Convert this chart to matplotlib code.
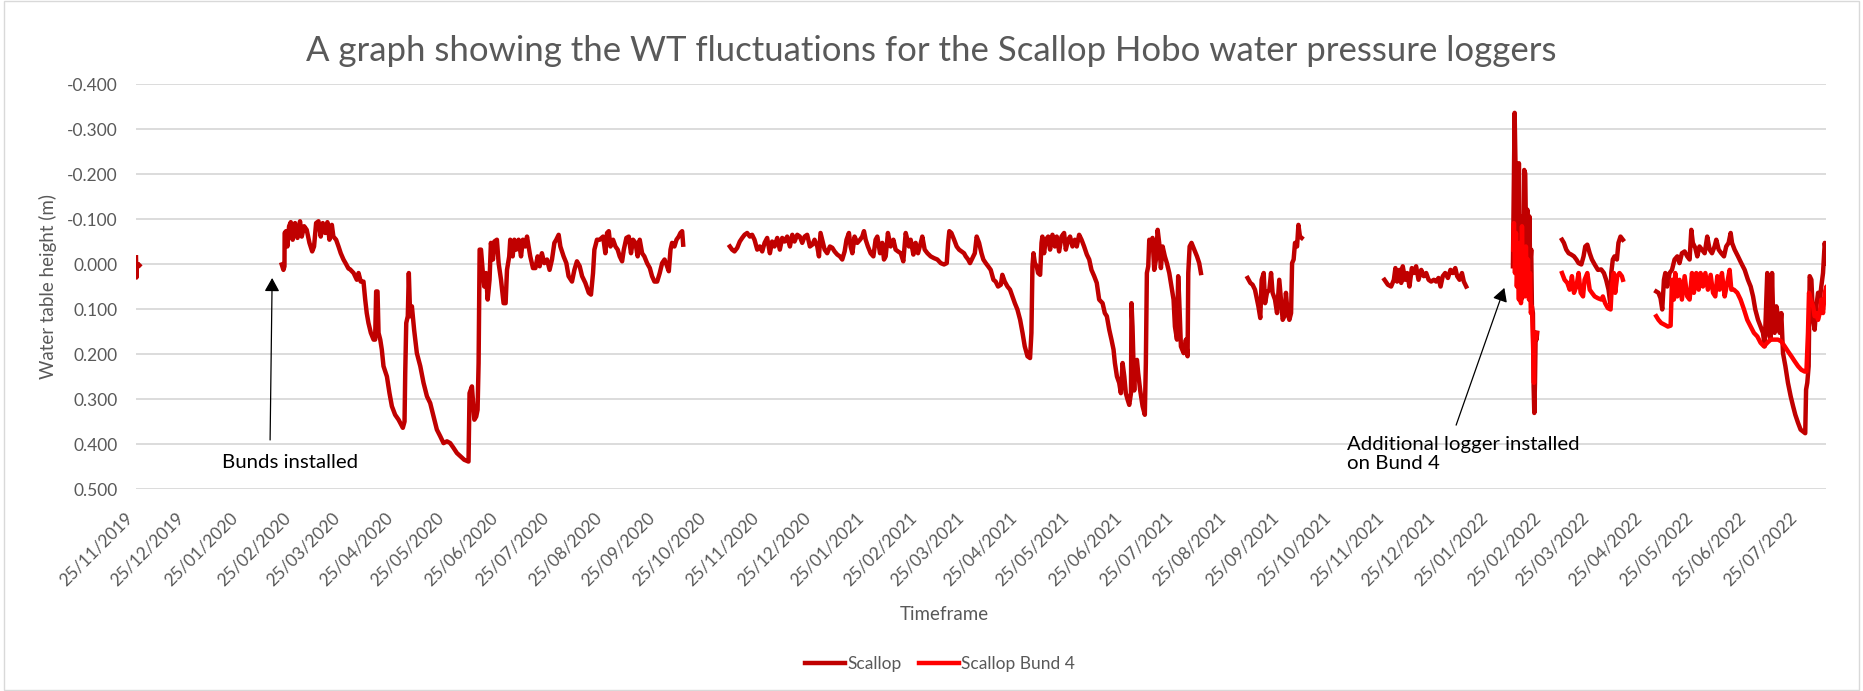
import matplotlib.pyplot as plt
import matplotlib.dates as mdates
import numpy as np
import pandas as pd

plt.rcParams['font.family'] = ['Lato', 'DejaVu Sans']

# Logger readings: time as days since the first reading, WT in m (positive = below)
start_date = "2019-11-25"

# Scallop logger, one list per continuous run of readings
scallop_days = [
    [0.0, 0.25, 0.5, 1.0, 1.5, 2.0],
    [85.2, 86.2, 86.8, 86.9, 87.7, 88.5, 89.5, 90.5, 91.6, 93.0, 94.4, 95.9, 96.9, 98.3,
     99.8, 101.4, 103.0, 104.1, 105.3, 106.7, 108.0, 109.2, 110.6, 111.9, 113.1, 114.5,
     115.4, 117.0, 118.4, 119.7, 121.3, 122.8, 124.2, 125.2, 127.2, 129.1, 130.1, 131.4,
     133.0, 134.0, 134.9, 135.9, 137.3, 138.9, 139.8, 140.4, 141.2, 141.8, 142.8, 143.7,
     144.7, 146.7, 148.2, 149.6, 151.5, 153.5, 156.0, 157.0, 157.4, 158.0, 158.9, 159.5,
     160.3, 161.3, 162.6, 164.2, 166.2, 168.1, 170.1, 172.0, 174.0, 175.9, 177.9, 179.8,
     181.8, 183.7, 185.7, 187.6, 189.6, 191.9, 194.4, 195.0, 196.4, 197.8, 198.9, 199.7,
     200.3, 200.9, 201.7, 202.8, 203.6, 204.6, 205.6, 206.7, 207.5, 208.7, 209.5, 211.0,
     212.0, 213.4, 214.9, 216.1, 216.9, 218.2, 218.8, 220.2, 221.2, 222.3, 223.7, 225.1,
     226.2, 227.6, 228.6, 230.5, 232.1, 233.5, 234.8, 236.0, 237.3, 238.7, 240.3, 241.8,
     243.2, 244.6, 245.7, 247.1, 248.1, 250.0, 251.6, 252.9, 254.9, 256.3, 257.8, 259.4,
     260.8, 262.7, 264.7, 266.0, 267.2, 268.0, 269.5, 271.1, 273.1, 274.4, 275.4, 276.4,
     277.4, 278.9, 280.3, 281.6, 282.8, 284.2, 285.2, 286.7, 288.1, 289.4, 290.6, 292.0,
     293.3, 294.5, 295.9, 297.2, 298.8, 300.4, 301.7, 303.1, 304.7, 306.2, 307.6, 309.0,
     310.1, 311.5, 312.5, 313.4, 314.8, 316.0, 317.3, 318.3, 319.3, 319.9],
    [347.2, 348.5, 349.9, 351.5, 353.0, 354.4, 355.8, 357.3, 358.9, 360.2, 361.6, 363.2,
     364.7, 366.1, 367.5, 369.0, 370.6, 371.9, 373.3, 374.9, 376.4, 377.8, 379.2, 380.7,
     382.3, 383.7, 385.0, 386.6, 388.1, 389.5, 390.9, 392.4, 394.0, 395.4, 396.7, 398.3,
     399.3, 400.2, 401.2, 402.6, 404.1, 405.7, 407.1, 408.4, 410.0, 411.5, 412.9, 414.3,
     415.4, 416.8, 417.8, 418.8, 420.1, 421.7, 423.3, 424.6, 425.6, 426.6, 427.9, 429.5,
     431.1, 432.4, 433.4, 435.0, 436.3, 437.3, 438.3, 439.6, 441.2, 442.8, 444.1, 445.5,
     447.1, 448.6, 450.0, 451.0, 451.9, 452.9, 454.5, 455.8, 457.2, 458.8, 459.7, 461.1,
     462.7, 464.6, 466.6, 468.5, 470.5, 472.4, 474.0, 474.8, 475.5, 476.7, 478.3, 479.8,
     481.2, 482.6, 484.1, 485.1, 486.5, 487.6, 489.0, 490.4, 491.5, 492.9, 494.3, 495.4,
     496.8, 498.2, 499.7, 501.3, 502.6, 504.0, 505.6, 506.5, 507.9, 509.5, 511.0, 512.4,
     513.8, 515.3, 516.9, 518.3, 519.6, 521.2, 522.7, 523.5, 524.1, 524.7, 525.5, 526.6,
     527.4, 528.6, 529.4, 529.9, 530.9, 531.9, 533.3, 534.4, 535.8, 537.2, 538.3, 539.7,
     541.1, 542.6, 543.6, 545.0, 546.1, 547.5, 548.9, 550.0, 551.4, 552.8, 554.3, 555.9,
     557.3, 558.6, 560.2, 561.7, 563.1, 565.1, 566.4, 567.6, 569.0, 570.3, 571.5, 572.3,
     573.5, 574.8, 575.8, 576.8, 577.8, 578.7, 579.7, 580.7, 581.7, 582.0, 582.6, 583.6,
     584.0, 585.2, 585.9, 587.1, 588.5, 589.8, 590.4, 591.0, 591.8, 592.4, 593.4, 594.3,
     595.3, 596.3, 597.3, 598.2, 599.2, 600.2, 601.5, 602.7, 604.1, 605.4, 606.6, 607.4,
     608.6, 609.3, 609.9, 610.9, 612.5, 613.8, 614.8, 615.2, 616.0, 617.1, 618.7, 620.3,
     621.6, 622.6],
    [649.9, 651.5, 652.8, 654.2, 655.4, 656.2, 657.3, 658.1, 659.3, 660.1, 661.2, 662.6,
     663.6, 664.5, 665.9, 667.1, 668.4, 669.4, 670.4, 671.4, 672.3, 673.3, 674.3, 675.3,
     675.9, 676.8, 677.6, 678.8, 679.6, 680.5, 681.5],
    [729.9, 731.9, 733.8, 735.4, 736.3, 737.3, 738.7, 739.7, 740.6, 742.0, 743.2, 744.5,
     745.9, 747.1, 748.4, 749.8, 751.4, 752.9, 754.3, 755.7, 757.2, 758.8, 760.1, 761.5,
     762.7, 764.0, 765.4, 767.0, 768.5, 769.9, 771.3, 772.4, 773.8, 775.2, 776.3, 777.7],
    [805.0, 805.4, 806.0, 806.6, 807.1, 807.7, 808.1, 808.5, 808.9, 809.5, 809.9, 810.5,
     811.0, 811.6, 812.2, 812.8, 813.4, 814.0, 814.6, 815.1, 815.7, 816.1, 816.7, 817.1,
     817.5, 817.9, 818.3, 818.8, 819.2],
    [833.7, 834.8, 836.2, 837.6, 839.1, 840.7, 842.1, 843.4, 845.0, 846.3, 847.3, 848.5,
     849.9, 851.2, 852.8, 854.7, 856.6, 858.2, 859.5, 860.9, 861.9, 862.5, 863.4, 864.4,
     865.8, 866.7, 867.9, 869.3],
    [888.8, 890.1, 891.3, 892.3, 893.3, 894.1, 895.2, 896.6, 898.0, 899.5, 901.1, 902.4,
     903.8, 905.4, 906.9, 908.3, 909.3, 910.2, 911.6, 912.8, 914.1, 915.5, 917.1, 918.6,
     920.0, 921.4, 922.9, 923.9, 925.3, 926.8, 928.4, 929.7, 931.1, 932.3, 933.1, 934.6,
     936.6, 938.5, 940.5, 942.4, 944.0, 945.4, 946.7, 948.3, 949.8, 951.2, 952.2, 953.1,
     953.7, 954.5, 955.7, 956.5, 957.1, 958.0, 959.0, 960.0, 961.0, 961.9, 962.9, 964.3,
     965.8, 967.4, 968.8, 970.1, 971.7, 973.2, 974.6, 975.9, 976.4, 977.1, 977.9, 978.5,
     979.5, 980.5, 981.4, 982.4, 983.4, 984.4, 985.3, 986.3, 987.3, 988.3, 988.8],
]
scallop_wt = [
    [-0.015, 0.030, 0.005, 0.000, 0.005, 0.003],
    [0.001, 0.013, 0.005, -0.069, -0.073, -0.039, -0.084, -0.093, -0.054, -0.091, -0.058,
     -0.095, -0.061, -0.084, -0.076, -0.047, -0.028, -0.039, -0.091, -0.095, -0.061, -0.091,
     -0.069, -0.093, -0.054, -0.087, -0.061, -0.054, -0.039, -0.024, -0.010, 0.000, 0.010,
     0.012, 0.020, 0.035, 0.020, 0.039, 0.039, 0.079, 0.109, 0.131, 0.153, 0.168, 0.168,
     0.061, 0.061, 0.153, 0.168, 0.190, 0.227, 0.250, 0.287, 0.316, 0.335, 0.346, 0.364,
     0.350, 0.242, 0.131, 0.116, 0.020, 0.116, 0.094, 0.146, 0.198, 0.227, 0.264, 0.294,
     0.309, 0.339, 0.368, 0.383, 0.398, 0.394, 0.398, 0.409, 0.420, 0.427, 0.435, 0.439,
     0.287, 0.272, 0.346, 0.339, 0.324, 0.220, -0.032, -0.032, 0.020, 0.050, 0.020, 0.079,
     0.035, -0.047, -0.010, -0.050, -0.054, -0.002, 0.035, 0.087, 0.087, 0.013, -0.017,
     -0.054, -0.017, -0.054, -0.032, -0.054, -0.017, -0.054, -0.039, -0.061, -0.017, 0.009,
     0.009, -0.017, 0.005, -0.024, -0.002, -0.010, 0.013, -0.010, -0.047, -0.054, -0.065,
     -0.039, -0.017, -0.002, 0.027, 0.039, 0.013, -0.006, 0.005, 0.027, 0.042, 0.064, 0.068,
     0.020, -0.032, -0.054, -0.054, -0.061, -0.024, -0.069, -0.073, -0.039, -0.054, -0.039,
     -0.032, -0.017, -0.006, -0.032, -0.058, -0.061, -0.024, -0.054, -0.047, -0.017, -0.054,
     -0.024, -0.017, -0.002, 0.009, 0.027, 0.039, 0.039, 0.020, -0.002, -0.010, 0.001,
     0.016, -0.032, -0.047, -0.039, -0.054, -0.061, -0.069, -0.073, -0.043],
    [-0.039, -0.032, -0.028, -0.036, -0.050, -0.058, -0.065, -0.069, -0.061, -0.065, -0.054,
     -0.032, -0.039, -0.028, -0.047, -0.058, -0.024, -0.050, -0.039, -0.058, -0.032, -0.058,
     -0.050, -0.061, -0.039, -0.065, -0.050, -0.065, -0.061, -0.047, -0.061, -0.065, -0.039,
     -0.043, -0.054, -0.039, -0.017, -0.069, -0.054, -0.032, -0.024, -0.039, -0.036, -0.028,
     -0.021, -0.017, -0.010, -0.028, -0.054, -0.069, -0.039, -0.024, -0.061, -0.047, -0.054,
     -0.061, -0.073, -0.054, -0.039, -0.024, -0.017, -0.054, -0.061, -0.024, -0.047, -0.010,
     -0.017, -0.069, -0.039, -0.054, -0.032, -0.028, -0.024, -0.006, -0.069, -0.054, -0.039,
     -0.054, -0.021, -0.047, -0.024, -0.047, -0.061, -0.032, -0.024, -0.017, -0.013, -0.010,
     -0.002, 0.001, -0.002, -0.047, -0.073, -0.069, -0.054, -0.039, -0.032, -0.028, -0.024,
     -0.017, -0.010, -0.002, -0.013, -0.024, -0.061, -0.047, -0.024, -0.010, -0.002, 0.005,
     0.013, 0.035, 0.039, 0.050, 0.046, 0.024, 0.039, 0.050, 0.057, 0.072, 0.087, 0.101,
     0.124, 0.153, 0.183, 0.205, 0.209, 0.153, 0.005, -0.024, -0.002, 0.005, 0.020, 0.024,
     -0.047, -0.061, -0.024, -0.054, -0.061, -0.032, -0.065, -0.039, -0.061, -0.028, -0.061,
     -0.069, -0.032, -0.054, -0.061, -0.039, -0.054, -0.039, -0.065, -0.054, -0.039, -0.021,
     -0.010, 0.013, 0.027, 0.042, 0.079, 0.087, 0.109, 0.116, 0.146, 0.168, 0.190, 0.220,
     0.250, 0.264, 0.287, 0.220, 0.250, 0.287, 0.301, 0.313, 0.287, 0.087, 0.139, 0.281,
     0.220, 0.213, 0.242, 0.281, 0.316, 0.335, 0.220, 0.020, 0.005, -0.054, -0.047, -0.058,
     0.013, -0.010, -0.076, -0.047, 0.009, -0.039, -0.017, -0.002, 0.020, 0.050, 0.079,
     0.139, 0.168, 0.027, 0.079, 0.183, 0.198, 0.168, 0.205, 0.020, -0.039, -0.047, -0.032,
     -0.017, -0.002, 0.020],
    [0.031, 0.042, 0.046, 0.057, 0.079, 0.094, 0.120, 0.035, 0.020, 0.087, 0.064, 0.057,
     0.020, 0.064, 0.079, 0.109, 0.035, 0.079, 0.124, 0.116, 0.064, 0.109, 0.124, 0.109,
     -0.002, -0.010, -0.047, -0.039, -0.087, -0.061, -0.058],
    [0.035, 0.046, 0.050, 0.035, 0.009, 0.039, 0.013, 0.042, 0.005, 0.035, 0.020, 0.050,
     0.009, 0.020, 0.005, 0.035, 0.013, 0.027, 0.020, 0.035, 0.039, 0.035, 0.039, 0.031,
     0.050, 0.027, 0.020, 0.031, 0.013, 0.020, 0.009, 0.027, 0.035, 0.020, 0.039, 0.050],
    [0.005, -0.128, -0.336, -0.201, -0.024, -0.143, 0.005, -0.224, 0.020, -0.069, 0.079,
     -0.106, 0.050, -0.209, -0.201, -0.024, -0.121, 0.020, -0.106, 0.005, -0.032, 0.094,
     0.109, 0.272, 0.331, 0.264, 0.153, 0.168, 0.153],
    [-0.054, -0.047, -0.032, -0.024, -0.021, -0.017, -0.010, -0.002, 0.001, -0.017, -0.039,
     -0.043, -0.024, -0.010, 0.001, 0.013, 0.012, 0.020, 0.035, 0.057, 0.087, 0.020, -0.010,
     -0.017, -0.010, -0.047, -0.061, -0.054],
    [0.061, 0.064, 0.076, 0.101, 0.035, 0.020, 0.050, 0.020, 0.013, -0.010, -0.017, -0.002,
     -0.024, -0.028, -0.017, -0.010, -0.076, -0.047, -0.036, -0.017, -0.039, -0.032, -0.024,
     -0.061, -0.032, -0.024, -0.039, -0.054, -0.032, -0.024, -0.017, -0.039, -0.047, -0.069,
     -0.047, -0.032, -0.017, -0.002, 0.013, 0.035, 0.050, 0.072, 0.101, 0.124, 0.139, 0.153,
     0.183, 0.087, 0.020, 0.153, 0.168, 0.020, 0.109, 0.153, 0.094, 0.116, 0.153, 0.109,
     0.198, 0.227, 0.264, 0.294, 0.316, 0.335, 0.353, 0.368, 0.372, 0.376, 0.279, 0.264,
     0.227, 0.027, 0.035, 0.124, 0.146, 0.094, 0.064, 0.079, 0.050, 0.020, -0.047, -0.017,
     -0.002],
]

# Scallop Bund 4 logger (installed Feb 2022)
bund4_days = [
    [805.2, 805.6, 806.2, 806.8, 807.3, 807.9, 808.5, 809.1, 809.7, 810.3, 810.9, 811.4,
     812.0, 812.6, 813.2, 813.8, 814.4, 815.0, 815.5, 816.1, 816.7, 817.3, 817.7, 818.3,
     818.8],
    [833.7, 835.2, 836.8, 838.2, 839.5, 840.7, 842.1, 843.4, 844.6, 846.0, 846.9, 848.5,
     849.9, 851.2, 852.8, 854.7, 856.7, 857.6, 858.9, 860.5, 862.1, 862.8, 864.0, 864.8,
     866.0, 867.3, 868.7, 869.3],
    [888.8, 890.1, 891.7, 893.7, 895.6, 897.2, 898.0, 899.1, 899.9, 901.1, 902.4, 903.8,
     905.4, 906.9, 908.3, 909.7, 910.8, 912.2, 913.6, 914.7, 916.1, 917.5, 919.0, 920.6,
     922.0, 923.3, 924.5, 925.8, 927.2, 928.8, 930.3, 931.7, 932.7, 934.2, 936.2, 938.1,
     940.1, 942.0, 944.0, 945.9, 947.9, 949.8, 951.8, 953.7, 955.7, 957.6, 960.0, 961.9,
     963.9, 965.8, 967.8, 969.7, 971.7, 973.6, 975.6, 976.6, 977.5, 978.1, 979.1, 980.5,
     981.4, 982.4, 983.4, 984.4, 985.3, 986.3, 987.3, 988.3, 988.8],
]
bund4_wt = [
    [-0.032, -0.091, 0.020, -0.069, 0.050, -0.017, 0.079, -0.047, 0.087, -0.084, 0.057,
     -0.032, 0.072, -0.039, 0.050, -0.010, 0.079, 0.020, 0.109, 0.094, 0.168, 0.264, 0.153,
     0.168, 0.153],
    [0.020, 0.035, 0.042, 0.057, 0.027, 0.064, 0.050, 0.020, 0.064, 0.072, 0.035, 0.020,
     0.057, 0.064, 0.072, 0.076, 0.079, 0.072, 0.087, 0.098, 0.101, 0.050, 0.020, 0.064,
     0.027, 0.020, 0.027, 0.035],
    [0.116, 0.124, 0.131, 0.135, 0.139, 0.137, 0.035, 0.079, 0.020, 0.072, 0.035, 0.079,
     0.027, 0.072, 0.079, 0.020, 0.064, 0.020, 0.057, 0.020, 0.050, 0.020, 0.057, 0.024,
     0.064, 0.072, 0.027, 0.057, 0.020, 0.072, 0.042, 0.013, 0.057, 0.057, 0.064, 0.079,
     0.101, 0.124, 0.139, 0.153, 0.161, 0.175, 0.183, 0.175, 0.168, 0.168, 0.168, 0.172,
     0.183, 0.194, 0.205, 0.216, 0.227, 0.235, 0.239, 0.239, 0.153, 0.064, 0.079, 0.094,
     0.116, 0.109, 0.124, 0.109, 0.079, 0.109, 0.064, 0.050, 0.079],
]

# monthly axis labels and axis end
tick_dates = pd.date_range("2019-11-25", "2022-07-25", freq=pd.DateOffset(months=1))
axis_end = "2022-08-09"

title = "A graph showing the WT fluctuations for the Scallop Hobo water pressure loggers"


def join_runs(days, vals):
    # put a NaN between runs so the line breaks where the logger had no data
    x, y = [], []
    for d, v in zip(days, vals):
        x += list(d) + [np.nan]
        y += list(v) + [np.nan]
    return mdates.datestr2num(start_date) + np.array(x), np.array(y)


sc_x, sc_y = join_runs(scallop_days, scallop_wt)
b4_x, b4_y = join_runs(bund4_days, bund4_wt)

grey = "#595959"
fig = plt.figure(figsize=(18.63, 6.91), dpi=100)
ax = fig.add_axes([0.073, 0.2923, 0.9071, 0.5861])

ax.plot(sc_x, sc_y, color="#C00000", lw=3.2, solid_joinstyle="round", label="Scallop")
ax.plot(b4_x, b4_y, color="#FF0000", lw=3.2, solid_joinstyle="round", label="Scallop Bund 4")

ax.set_xlim(mdates.datestr2num(start_date), mdates.datestr2num(axis_end))
ax.set_ylim(0.5, -0.4)
ax.set_yticks(np.arange(-0.4, 0.51, 0.1))
ax.yaxis.set_major_formatter(plt.FuncFormatter(lambda v, p: f"{round(v, 3) + 0.0:.3f}"))
ax.set_xticks(mdates.date2num(tick_dates))
ax.set_xticklabels([d.strftime("%d/%m/%Y") for d in tick_dates], rotation=45, ha="right")

ax.grid(axis="y", color="#D9D9D9", lw=1.3)
ax.set_axisbelow(True)
for s in ax.spines.values():
    s.set_visible(False)
ax.tick_params(axis="both", length=0, labelsize=12.5, labelcolor=grey)
ax.tick_params(axis="y", pad=13)
ax.tick_params(axis="x", pad=15)

fig.text(0.5, 0.926, title, ha="center", va="center", fontsize=25, color=grey)
fig.text(0.507, 0.110, "Timeframe", ha="center", va="center", fontsize=13.5, color=grey)
fig.text(0.026, 0.585, "Water table height (m)", ha="center", va="center",
         rotation=90, fontsize=13.5, color=grey)

# annotations
d0 = mdates.datestr2num(start_date)
arrow = dict(arrowstyle="-|>,head_length=0.45,head_width=0.25", color="black",
             lw=0.9, mutation_scale=18, shrinkA=0, shrinkB=0)
ax.annotate("", xy=(d0 + 79.6, 0.031), xytext=(d0 + 78.4, 0.391), arrowprops=arrow)
ax.text(d0 + 90, 0.442, "Bunds installed", ha="center", va="center", fontsize=14.7)
ax.annotate("", xy=(d0 + 800, 0.053), xytext=(d0 + 771.8, 0.358), arrowprops=arrow)
ax.text(d0 + 708, 0.382, "Additional logger installed\non Bund 4", ha="left", va="top",
        fontsize=14.7, linespacing=1.15)

leg = fig.legend(loc="center", bbox_to_anchor=(0.5045, 0.039), ncol=2, frameon=False,
                 fontsize=12.5, handlelength=2.3, handletextpad=0.15, columnspacing=1.0)
for t in leg.get_texts():
    t.set_color(grey)

fig.patches.append(plt.Rectangle((0.002, 0.002), 0.996, 0.996, transform=fig.transFigure,
                                 fill=False, ec="#D9D9D9", lw=1))

fig.savefig("out.png", dpi=100)
